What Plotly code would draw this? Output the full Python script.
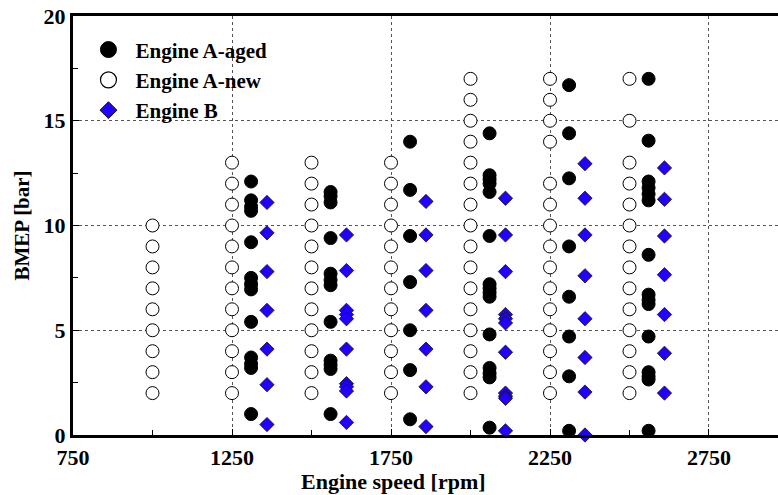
import plotly.graph_objects as go

# Engine A (new): operating points per speed column [rpm] -> BMEP [bar]
new_speeds = [1000, 1250, 1500, 1750, 2000, 2250, 2500]
new_bmep = [
    [2, 3, 4, 5, 6, 7, 8, 9, 10],
    [2, 3, 4, 5, 6, 7, 8, 9, 10, 11, 12, 13],
    [2, 3, 4, 5, 6, 7, 8, 9, 10, 11, 12, 13],
    [2, 3, 4, 5, 6, 7, 8, 9, 10, 11, 12, 13],
    [2, 3, 4, 5, 6, 7, 8, 9, 10, 11, 12, 13, 14, 15, 16, 17],
    [2, 3, 4, 5, 6, 7, 8, 9, 10, 11, 12, 14, 15, 16, 17],
    [2, 3, 4, 5, 6, 7, 8, 9, 10, 11, 12, 13, 15, 17],
]

# Engine A (aged): plotted slightly right of each nominal speed
aged_speeds = [1310, 1560, 1810, 2060, 2310, 2560]
aged_bmep = [
    [12.1, 11.2, 10.9, 10.7, 9.2, 7.5, 7.2, 6.95, 5.4, 3.7, 3.4, 3.2, 1.0],
    [11.6, 11.4, 11.1, 9.4, 7.7, 7.4, 7.15, 5.4, 3.55, 3.35, 3.15, 1.0],
    [14.0, 11.7, 9.5, 7.3, 5.0, 3.1, 0.75],
    [14.4, 12.4, 12.2, 12.0, 11.6, 9.5, 7.2, 7.0, 6.8, 6.6, 4.8, 3.2, 2.95, 2.75, 0.35],
    [16.7, 14.4, 12.25, 9.0, 6.6, 4.7, 2.8, 0.2],
    [17.0, 14.05, 12.1, 11.8, 11.5, 11.2, 8.6, 6.7, 6.45, 6.25, 4.7, 3.0, 2.8, 2.65, 0.2],
]

# Engine B
b_speeds = [1360, 1610, 1860, 2110, 2360, 2610]
b_bmep = [
    [11.1, 9.65, 7.8, 5.95, 4.1, 2.4, 0.5],
    [9.55, 7.85, 5.95, 5.75, 5.55, 4.1, 2.45, 2.3, 2.1, 0.6],
    [11.15, 9.55, 7.85, 5.95, 4.1, 2.3, 0.4],
    [11.3, 9.55, 7.8, 5.75, 5.55, 5.35, 3.95, 2.0, 1.85, 1.75, 0.2],
    [12.95, 11.3, 9.55, 7.6, 5.55, 3.7, 2.05, 0.0],
    [12.75, 11.25, 9.5, 7.65, 5.75, 3.9, 2.0],
]

x_ticks = [750, 1250, 1750, 2250, 2750]
y_ticks = [0, 5, 10, 15, 20]


def flatten(speeds, groups):
    xs, ys = [], []
    for s, vals in zip(speeds, groups):
        xs += [s] * len(vals)
        ys += vals
    return xs, ys


FONT = "Liberation Serif, Times New Roman, serif"
BLUE = "#2200ff"

series = [
    ("Engine A-aged", aged_speeds, aged_bmep,
     dict(symbol="circle", size=13, color="black", line=dict(color="black", width=1)),
     dict(symbol="circle", size=16, color="black", line=dict(color="black", width=1))),
    ("Engine A-new", new_speeds, new_bmep,
     dict(symbol="circle", size=13, color="white", line=dict(color="black", width=1)),
     dict(symbol="circle", size=16, color="white", line=dict(color="black", width=1.2))),
    ("Engine B", b_speeds, b_bmep,
     dict(symbol="diamond", size=11, color=BLUE, line=dict(color="#111111", width=0.8)),
     dict(symbol="diamond", size=13, color=BLUE, line=dict(color="#111111", width=1))),
]

fig = go.Figure()
for name, speeds, groups, mk, legend_mk in series:
    xs, ys = flatten(speeds, groups)
    fig.add_trace(go.Scatter(
        x=xs, y=ys, mode="markers", name=name, legendgroup=name,
        showlegend=False, cliponaxis=False, marker=mk,
    ))
    # larger glyph for the legend entry
    fig.add_trace(go.Scatter(
        x=[None], y=[None], mode="markers", name=f"<b>{name}</b>",
        legendgroup=name, showlegend=True, marker=legend_mk,
    ))

axis_common = dict(
    showline=True, linecolor="black", linewidth=3,
    ticks="inside", ticklen=6, tickwidth=1, tickcolor="black",
    showgrid=True, gridcolor="#555555", gridwidth=1, griddash="dot",
    zeroline=False,
    tickfont=dict(family=FONT, size=22, color="black"),
)

fig.update_layout(
    width=778, height=495,
    margin=dict(l=73, r=0, t=16, b=60),
    paper_bgcolor="white", plot_bgcolor="white",
    font=dict(family=FONT, color="black"),
    showlegend=True,
    legend=dict(
        x=0.012, y=0.968, xanchor="left", yanchor="top",
        bgcolor="rgba(0,0,0,0)", borderwidth=0,
        font=dict(family=FONT, size=21, color="black"),
        itemsizing="trace", itemwidth=44, tracegroupgap=0,
    ),
    xaxis=dict(
        axis_common, range=[750, 2967], tickvals=x_ticks,
        ticktext=[f"<b>{v}</b>" for v in x_ticks],
        mirror=True, ticklabelstandoff=1,
        minor=dict(dtick=250, tick0=750, ticks="inside", ticklen=5, tickcolor="black", showgrid=False),
    ),
    yaxis=dict(
        axis_common, range=[0, 20], tickvals=y_ticks,
        ticktext=[f"<b>{v}</b>" for v in y_ticks],
        minor=dict(dtick=2.5, tick0=0, ticks="inside", ticklen=5, tickcolor="black", showgrid=False),
        title=dict(text="<b>BMEP [bar]</b>", font=dict(family=FONT, size=21), standoff=9),
    ),
    annotations=[dict(
        text="<b>Engine speed [rpm]</b>", xref="paper", yref="paper",
        x=0.454, y=-0.11, xanchor="center", yanchor="middle", showarrow=False,
        font=dict(family=FONT, size=22, color="black"),
    )],
)

fig.write_html("out.html")
